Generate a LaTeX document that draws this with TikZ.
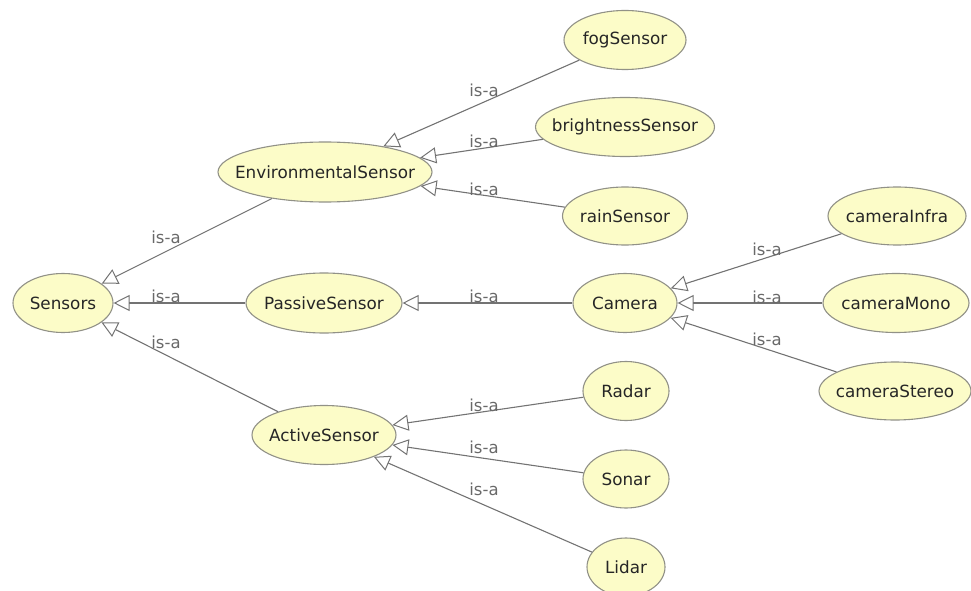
\documentclass[tikz,border=0pt]{standalone}
\usepackage{fontspec}
\setmainfont{DejaVu Sans}
\usetikzlibrary{shapes.geometric,arrows.meta}
\definecolor{nodefill}{RGB}{252,252,200}
\definecolor{nodeborder}{RGB}{145,145,135}
\definecolor{edgecol}{RGB}{115,115,115}
\definecolor{labcol}{RGB}{105,105,105}
\tikzset{
  cls/.style={ellipse, draw=nodeborder, fill=nodefill, line width=1.1pt, inner sep=0pt,
    font=\fontsize{16.8}{18}\selectfont, text=black!85,
    execute at begin node={\hbox to 0pt\bgroup\hss},
    execute at end node={\hss\egroup}},
  isa/.style={draw=edgecol, line width=1.1pt,
    -{Triangle[open, length=16pt, width=16pt, line width=1pt]}},
  lab/.style={font=\fontsize{16.5}{18}\selectfont, text=labcol, inner sep=0pt},
}
\begin{document}
\begin{tikzpicture}[x=1pt,y=-1pt]
\useasboundingbox (0,0) rectangle (971,591);
% nodes
\node[cls, minimum width=100pt, minimum height=59pt] (sensors) at (63,303) {Sensors};
\node[cls, minimum width=214pt, minimum height=60pt] (env) at (325,172) {EnvironmentalSensor};
\node[cls, minimum width=156pt, minimum height=60pt] (passive) at (324,303) {PassiveSensor};
\node[cls, minimum width=144pt, minimum height=59pt] (active) at (324,435) {ActiveSensor};
\node[cls, minimum width=122pt, minimum height=59pt] (fog) at (625,40) {fogSensor};
\node[cls, minimum width=179pt, minimum height=59pt] (bright) at (625,127) {brightnessSensor};
\node[cls, minimum width=125pt, minimum height=58pt] (rain) at (625,216) {rainSensor};
\node[cls, minimum width=104pt, minimum height=59pt] (camera) at (625,303) {Camera};
\node[cls, minimum width=138pt, minimum height=58pt] (cinfra) at (897,216) {cameraInfra};
\node[cls, minimum width=146pt, minimum height=59pt] (cmono) at (896,303) {cameraMono};
\node[cls, minimum width=152pt, minimum height=58pt] (cstereo) at (895,391) {cameraStereo};
\node[cls, minimum width=86pt, minimum height=59pt] (radar) at (626,391) {Radar};
\node[cls, minimum width=86pt, minimum height=58pt] (sonar) at (626,479) {Sonar};
\node[cls, minimum width=78pt, minimum height=58pt] (lidar) at (626,567) {Lidar};
% edges
\draw[isa] (env) -- (sensors);
\draw[isa] (passive) -- (sensors);
\draw[isa] (active) -- (sensors);
\draw[isa] (fog) -- (env);
\draw[isa] (bright) -- (env);
\draw[isa] (rain) -- (env);
\draw[isa] (camera) -- (passive);
\draw[isa] (cinfra) -- (camera);
\draw[isa] (cmono) -- (camera);
\draw[isa] (cstereo) -- (camera);
\draw[isa] (radar) -- (active);
\draw[isa] (sonar) -- (active);
\draw[isa] (lidar) -- (active);
% labels
\node[lab] (l1) at (166,237) {is-a};
\node[lab] (l2) at (166,296) {is-a};
\node[lab] (l3) at (166,342) {is-a};
\node[lab] (l4) at (484,90) {is-a};
\node[lab] (l5) at (484,141) {is-a};
\node[lab] (l6) at (484,189) {is-a};
\node[lab] (l7) at (484,296) {is-a};
\node[lab] (l8) at (767,249) {is-a};
\node[lab] (l9) at (767,297) {is-a};
\node[lab] (l10) at (767,339) {is-a};
\node[lab] (l11) at (484,405) {is-a};
\node[lab] (l12) at (484,447) {is-a};
\node[lab] (l13) at (484,489) {is-a};
\end{tikzpicture}
\end{document}
